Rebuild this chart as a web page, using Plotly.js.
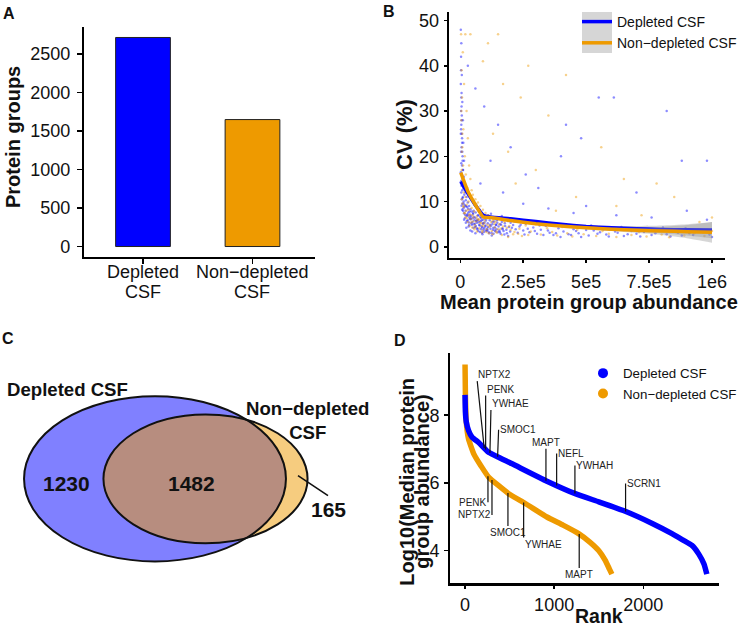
<!DOCTYPE html>
<html>
<head>
<meta charset="utf-8">
<script src="https://cdn.plot.ly/plotly-3.0.1.min.js"></script>
<style>html,body{margin:0;padding:0;background:#fff}</style>
</head>
<body>
<div id="fig" style="width:744px;height:627px"></div>
<script>
// ---------- Panel A: protein groups identified per sample type ----------
const sampleTypes = ['Depleted CSF', 'Non\u2212depleted CSF'];
const proteinGroups = [2712, 1647];

// ---------- Panel B: CV vs mean protein group abundance (abundance in thousands) ----------
const depAbundK = [
  2,4,3,6,2,5,8,3,6,10, 4,2,7,12,5,3,9,15,4,7, 11,2,6,14,9,3,18,5,12,8,
  20,4,16,10,25,6,22,13,30,8, 18,35,27,12,40,21,45,32,15,50, 38,25,55,60,18,42,70,30,65,80,
  48,22,90,58,75,35,100,85,110,52, 95,120,68,130,40,105,140,78,150,115, 160,88,175,125,190,60,135,145,165,180,
  15,28,33,44,53,62,72,83,92,102, 112,118,128,138,148,158,168,178,188,198, 24,36,47,57,66,76,86,97,108,122, 132,143,155,165,185,
  5,7,9,11,13,16,19,23,26,29, 31,34,37,39,43,46,49,51,54,56, 59,61,63,67,69,71,73,77,79,82,
  84,87,89,91,94,96,99,101,104,107, 109,113,117,121,124,127,131,134,137,141, 144,147,152,157,162,167,172,177,183,193,
  3,5,7,9,4,6,8,10,3,5,
  200,205,210,215,220,228,235,240,250,255, 260,268,275,282,290,296,305,315,320,330, 340,348,355,362,370,380,390,398,410,418,
  430,440,450,460,470,480,490,500,510,520, 530,545,555,570,580,590,600,615,625,640, 650,665,680,690,700,715,730,745,760,775,
  790,805,820,835,850,865,880,895,910,925, 950,965,990,1000,
  30,60,95,150,200,120,260,310,420,480, 400,550,610,820,880,980,700,500,350,250, 170,80,620,760,900,450,980
];
const depCV = [
  48,45,42,38,36,34,32,30,29,28, 27,25,24,23,22,21,20,19,18.5,18, 17,16.5,16,15.5,15,14.5,14,13.5,13,12.5,
  12,12,11.5,11,11,10.5,10.3,10,9.8,9.5, 9.2,9,8.8,8.5,8.3,8,7.8,7.6,7.4,7.2, 7,6.8,6.6,6.4,6.3,6.1,6,5.9,5.8,5.6,
  5.5,5.3,5.2,5.1,4.9,4.8,4.7,4.5,4.4,4.2, 4.1,4,3.9,3.8,3.6,3.5,3.4,3.3,3.2,3, 2.9,2.8,2.7,2.5,2.4,3,6.5,5.9,5.5,6.2,
  6,7.2,4.5,5.2,8,4.6,7,6.4,3.8,5.8, 6.9,4.9,5.5,4.3,6.1,5.0,3.9,4.6,5.7,3.4, 4.2,6.5,3.4,9.5,5.3,8.2,3.1,6.2,3.7,7.3, 2.9,4.8,3.6,6.8,3.0,
  9.1,8.2,10.8,7.9,9.6,8.8,7.1,9.0,5.7,6.9, 8.4,5.4,7.8,6.2,6.7,4.9,6.3,7.5,5.0,5.9, 4.4,7.6,5.7,4.1,6.9,3.5,5.5,4.7,6.6,3.9,
  5.8,4.3,6.0,5.1,3.3,5.4,4.5,3.6,6.3,4.0, 5.2,3.3,5.9,4.6,3.1,5.0,4.2,5.6,3.6,4.9, 3.9,5.3,4.5,3.3,4.9,4.1,3.5,5.2,3.8,4.4,
  26,31,23,19,33,25,21,17,39,28,
  5.3,4.2,4.8,5.6,3.9,3.1,4.5,4.9,3.6,2.7, 5.1,4.0,3.2,5.5,4.3,3.5,2.9,4.7,3.8,2.6, 4.6,3.6,3.1,5.2,2.6,3.0,4.1,2.2,3.4,4.8,
  2.8,2.6,3.9,3.5,3.0,2.2,4.4,3.7,2.5,4.7, 3.6,2.9,3.2,3.9,2.7,2.3,4.0,3.4,3.1,4.4, 2.4,2.8,3.5,3.9,2.9,2.3,3.3,3.8,2.6,3.0,
  3.8,4.3,2.8,2.3,3.4,3.1,2.5,4.1,3.0,2.6, 3.6,3.2,2.7,2.2,
  40,35,31,27,22,19,16,13,27,24, 20,33,33,30,19,19,12,9,8.5,9.5, 12,14,7,6.5,8,7.5,6
];
const nonAbundK = [
  3,20,10,5,15,7,25,4,12,30, 8,18,35,6,22,40,10,28,45,14, 50,20,60,33,70,25,80,45,90,55,
  100,38,110,65,120,75,130,50,140,95, 155,85,170,60,185,105,200,125,215,145, 230,165,245,190,
  260,280,300,320,345,365,385,405,425,445, 465,490,515,540,565,590,620,650,680,710,
  740,770,800,830,860,890,930,970,1000,
  12,18,26,32,42,48,58,68,78,88, 98,115,135,150,175,195,210,235,250,270,
  6,9,13,16,21,24,29,34,37,41, 47,52,56,62,66,72,76,83,87,93, 97,103,108,113,118,123,128,137,143,160, 4,8,6,11,
  40,150,110,90,270,170,420,240,350,130, 190,300,220,560,650,780,850,620,460,380, 720,950,1000
];
const nonCV = [
  47,47,43,39,36,33,30,28,26,24, 22,20,18,17,16,15,14,13,12.5,12, 11.5,11,10.5,10,9.8,9.3,9,8.6,8.2,7.8,
  7.5,7.2,7,6.7,6.4,6.1,5.9,5.6,5.5,5.2, 5,4.7,4.5,4.3,4.2,3.9,3.8,3.5,3.3,3.1, 2.9,2.6,2.4,2.2,
  4.7,3.4,5,2.7,4.1,3.3,2.5,4.4,3.0,2.3, 3.8,2.8,4.2,2.4,3.5,2.9,2.2,3.7,2.6,3.2,
  2.3,3.9,2.7,2.1,3.3,2.5,3.0,2.4,3.5,
  9,7.5,6.3,8.2,5.4,7,4.8,6.2,5.2,3.6, 6.6,4.4,5.1,3.9,5.6,4.6,2.8,4.0,5.3,2.6,
  10.5,9.6,8.8,7.4,6.6,8.0,5.5,6.9,4.6,6.1, 4.3,6.5,3.9,5.6,3.4,5.9,4.1,5.3,3.2,4.6, 5.8,3.3,4.9,3.0,4.7,5.5,2.8,4.3,3.4,4.0, 30,25,21,18,
  47,47,45,41,40,36,38,33,29,25, 21,17,14,22,15,14,11,9,11,8, 7,5.5,6.5
];
// loess fits with confidence band
const fitAbundK = [2, 30, 60, 91, 120, 200, 300, 400, 500, 600, 700, 800, 900, 1000];
const depFit   = [14.4, 11.8, 9.2, 7.0, 6.6, 6.2, 5.6, 5.0, 4.5, 4.2, 4.0, 3.85, 3.75, 3.7];
const depFitLo = [13.7, 11.4, 8.9, 6.8, 6.4, 6.0, 5.4, 4.8, 4.2, 3.8, 3.4, 3.0, 2.5, 1.9];
const depFitHi = [15.1, 12.2, 9.5, 7.2, 6.8, 6.4, 5.8, 5.2, 4.8, 4.6, 4.6, 4.7, 5.0, 5.5];
const nonFit   = [16.4, 12.3, 9.3, 6.6, 6.5, 5.8, 5.1, 4.6, 4.2, 3.9, 3.65, 3.5, 3.35, 3.2];
const nonFitLo = [15.6, 11.9, 9.0, 6.4, 6.3, 5.6, 4.9, 4.4, 3.9, 3.5, 3.1, 2.6, 1.9, 0.9];
const nonFitHi = [17.2, 12.7, 9.6, 6.8, 6.7, 6.0, 5.3, 4.8, 4.5, 4.3, 4.2, 4.4, 4.8, 5.5];

// ---------- Panel C: overlap of identified protein groups ----------
const vennSets = ['Depleted CSF', 'Non\u2212depleted<br>CSF'];
const vennCounts = [1230, 1482, 165]; // depleted only, shared, non-depleted only

// ---------- Panel D: abundance rank curves ----------
const depRank = [1, 5, 15, 40, 80, 150, 261, 523, 919, 1237, 1500, 1797, 2100, 2321, 2450, 2545, 2620, 2680, 2712];
const depLogAbund = [8.6, 8.1, 7.8, 7.55, 7.35, 7.2, 6.91, 6.57, 6.05, 5.68, 5.44, 5.16, 4.8, 4.5, 4.3, 4.15, 3.9, 3.6, 3.3];
const nonRank = [1, 5, 15, 40, 100, 180, 265, 490, 676, 919, 1100, 1274, 1400, 1499, 1573, 1620, 1647];
const nonLogAbund = [9.5, 8.6, 7.8, 7.3, 6.85, 6.5, 6.17, 5.68, 5.39, 4.99, 4.75, 4.5, 4.25, 4.0, 3.71, 3.45, 3.3];
const depGenes = ['NPTX2', 'PENK', 'YWHAE', 'SMOC1', 'MAPT', 'NEFL', 'YWHAH', 'SCRN1'];
const depGeneRank = [216, 232, 280, 366, 908, 1028, 1233, 1801];
const nonGenes = ['PENK', 'NPTX2', 'SMOC1', 'YWHAE', 'MAPT'];
const nonGeneRank = [258, 303, 482, 658, 1281];

// ---------- styling ----------
const FONT = 'Liberation Sans, Arial, Helvetica, sans-serif';
const BLUE = '#0000FF', ORANGE = '#EE9A00';
const INK = '#111111';
const W = 744, H = 627;
const fx = p => p / W;          // page pixel -> paper x
const fy = p => 1 - p / H;      // page pixel -> paper y

// label placement: [ax, ay, xanchor, yanchor]
const depLabelPos = [
  [-7, -67, 'left', 'bottom'], [0, -54, 'left', 'bottom'], [1, -43, 'left', 'bottom'], [1, -27, 'left', 'middle'],
  [0, -32, 'center', 'bottom'], [0, -32, 'left', 'middle'], [0, -28, 'left', 'middle'], [0, -28, 'left', 'middle']
];
const nonLabelPos = [
  [0, 26, 'right', 'middle'], [0, 35, 'right', 'middle'], [0, 33, 'center', 'top'],
  [0, 35, 'left', 'top'], [0, 34, 'center', 'top']
];

function interp(xs, ys, x) {
  for (let i = 1; i < xs.length; i++) {
    if (x <= xs[i]) {
      const t = (x - xs[i - 1]) / (xs[i] - xs[i - 1]);
      return ys[i - 1] + t * (ys[i] - ys[i - 1]);
    }
  }
  return ys[ys.length - 1];
}

function axisStyle(extra) {
  return Object.assign({
    showline: true, linecolor: '#000', linewidth: 2.2, mirror: false,
    ticks: 'outside', ticklen: 3.5, tickwidth: 1.5, tickcolor: '#000',
    showgrid: false, zeroline: false, fixedrange: true, ticklabelstandoff: 1, automargin: false,
    tickfont: {family: FONT, size: 18, color: INK}
  }, extra);
}
const titleFont = {family: FONT, size: 20, color: INK, weight: 700};

const toAbund = arr => arr.map(k => k * 1000);
const traces = [];

// A: bars
traces.push({
  type: 'bar', x: sampleTypes, y: proteinGroups, width: 0.5,
  marker: {color: [BLUE, ORANGE], line: {color: '#222', width: 1}},
  xaxis: 'x', yaxis: 'y', showlegend: false, hoverinfo: 'skip'
});

// B: points, then bands and fitted lines
traces.push({
  type: 'scatter', mode: 'markers', x: toAbund(depAbundK), y: depCV,
  marker: {color: BLUE, size: 2.5, opacity: 0.45}, xaxis: 'x2', yaxis: 'y2', showlegend: false, hoverinfo: 'skip'
});
traces.push({
  type: 'scatter', mode: 'markers', x: toAbund(nonAbundK), y: nonCV,
  marker: {color: ORANGE, size: 2.5, opacity: 0.45}, xaxis: 'x2', yaxis: 'y2', showlegend: false, hoverinfo: 'skip'
});
[[depFitLo, depFitHi, depFit, BLUE, 'Depleted CSF'], [nonFitLo, nonFitHi, nonFit, ORANGE, 'Non\u2212depleted CSF']]
  .forEach(([lo, hi, fit, col, name]) => {
    traces.push({type: 'scatter', mode: 'lines', x: toAbund(fitAbundK), y: lo, line: {width: 0, shape: 'spline', smoothing: 0.5},
      xaxis: 'x2', yaxis: 'y2', showlegend: false, hoverinfo: 'skip'});
    traces.push({type: 'scatter', mode: 'lines', x: toAbund(fitAbundK), y: hi, line: {width: 0, shape: 'spline', smoothing: 0.5},
      fill: 'tonexty', fillcolor: 'rgba(153,153,153,0.4)', xaxis: 'x2', yaxis: 'y2', showlegend: false, hoverinfo: 'skip'});
    traces.push({type: 'scatter', mode: 'lines', x: toAbund(fitAbundK), y: fit, name: name,
      line: {color: col, width: 3.5, shape: 'spline', smoothing: 0.5},
      xaxis: 'x2', yaxis: 'y2', legend: 'legend', showlegend: true, hoverinfo: 'skip'});
  });

// D: rank curves
traces.push({type: 'scatter', mode: 'lines', x: nonRank, y: nonLogAbund, line: {color: ORANGE, width: 5.5, shape: 'spline', smoothing: 0.4},
  xaxis: 'x4', yaxis: 'y4', showlegend: false, hoverinfo: 'skip'});
traces.push({type: 'scatter', mode: 'lines', x: depRank, y: depLogAbund, line: {color: BLUE, width: 5.5, shape: 'spline', smoothing: 0.4},
  xaxis: 'x4', yaxis: 'y4', showlegend: false, hoverinfo: 'skip'});
// legend entries for panel D
[['Depleted CSF', BLUE], ['Non\u2212depleted CSF', ORANGE]].forEach(([name, col]) => {
  traces.push({type: 'scatter', mode: 'markers', x: [null], y: [null], name: name, marker: {color: col, size: 10},
    xaxis: 'x4', yaxis: 'y4', legend: 'legend2', showlegend: true, hoverinfo: 'skip'});
});

// ---------- annotations ----------
const annotations = [];
const pageText = (t, x, y, font, extra) => annotations.push(Object.assign({text: t, xref: 'paper', yref: 'paper',
  x: fx(x), y: fy(y), showarrow: false, xanchor: 'center', yanchor: 'middle', font: font}, extra || {}));
const letterFont = {family: FONT, size: 16, color: INK, weight: 700};
pageText('A', 9, 13, letterFont);
pageText('B', 389, 11, letterFont);
pageText('C', 8, 338, letterFont);
pageText('D', 400, 340, letterFont);

// axis titles
pageText('Protein groups', 13, 137, titleFont, {textangle: -90});
pageText('Mean protein group abundance', 589, 302, titleFont);
pageText('CV (%)', 404, 135, Object.assign({}, titleFont, {size: 22}), {textangle: -90});
pageText('Rank', 599, 616, Object.assign({}, titleFont, {size: 19.5}));
pageText('Log10(Median protein', 407, 481.7, titleFont, {textangle: -90});
pageText('group abundance)', 422, 481.7, titleFont, {textangle: -90});

// A: two-line category labels
sampleTypes.forEach(cat => {
  const parts = cat.split(' ');
  [272, 292].forEach((yy, i) => annotations.push({
    text: parts[i], xref: 'x', yref: 'paper', x: cat, y: fy(yy), showarrow: false,
    xanchor: 'center', yanchor: 'middle', font: {family: FONT, size: 18, color: INK}
  }));
});

// C: Venn labels
const vennTxt = (t, x, y, size, extra) => annotations.push(Object.assign({
  text: t, xref: 'x3', yref: 'y3', x: x, y: y, showarrow: false, xanchor: 'center', yanchor: 'middle',
  font: {family: FONT, size: size, color: INK, weight: 700}}, extra || {}));
vennTxt(vennSets[0], 67.5, 389, 18.6);
vennTxt(vennSets[1], 307.5, 420, 18.6);
vennTxt(String(vennCounts[0]), 66.7, 483, 21);
vennTxt(String(vennCounts[1]), 191.7, 483, 21);
vennTxt(String(vennCounts[2]), 298, 475.7, 21, {showarrow: true, arrowhead: 0, arrowwidth: 1.6, arrowcolor: INK,
  ax: 30, ay: 20, xanchor: 'center', yanchor: 'top', standoff: 0});

// D: gene labels with leader segments
const geneLabel = (gene, rank, ranks, vals, pos) => annotations.push({
  text: gene, xref: 'x4', yref: 'y4', x: rank, y: interp(ranks, vals, rank),
  showarrow: true, arrowhead: 0, arrowwidth: 1.2, arrowcolor: INK, standoff: 0, startstandoff: 0,
  ax: pos[0], ay: pos[1], xanchor: pos[2], yanchor: pos[3], borderpad: 0,
  font: {family: FONT, size: 10, color: '#222'}
});
depGenes.forEach((g, i) => geneLabel(g, depGeneRank[i], depRank, depLogAbund, depLabelPos[i]));
nonGenes.forEach((g, i) => geneLabel(g, nonGeneRank[i], nonRank, nonLogAbund, nonLabelPos[i]));

// ---------- shapes: Venn ellipses (area proportional to set size) and legend key backdrop ----------
const VENN_K = 3.99, VENN_ASPECT = 1.585;
const vennCentres = [[155, 478.8], [205.5, 478.8]];
const vennTotals = [vennCounts[0] + vennCounts[1], vennCounts[1] + vennCounts[2]];
const ellipse = (i, fill, line) => {
  const ab = vennTotals[i] * VENN_K;
  const a = Math.sqrt(ab * VENN_ASPECT), b = ab / a;
  const [cx, cy] = vennCentres[i];
  return {type: 'circle', xref: 'x3', yref: 'y3', x0: cx - a, x1: cx + a, y0: cy - b, y1: cy + b,
    fillcolor: fill, line: line, layer: 'above'};
};
const shapes = [
  ellipse(0, '#8080FF', {width: 0}),
  ellipse(1, 'rgba(238,154,0,0.5)', {width: 0}),
  ellipse(0, 'rgba(0,0,0,0)', {color: INK, width: 2}),
  ellipse(1, 'rgba(0,0,0,0)', {color: INK, width: 2}),
  {type: 'rect', xref: 'paper', yref: 'paper', x0: fx(582), x1: fx(612), y0: fy(53), y1: fy(12),
    fillcolor: '#D6D6D6', line: {width: 0}, layer: 'below'}
];

const legendFont = {family: FONT, size: 14, color: INK};
const layout = {
  width: W, height: H, margin: {l: 0, r: 0, t: 0, b: 0, pad: 0, autoexpand: false},
  paper_bgcolor: '#fff', plot_bgcolor: 'rgba(0,0,0,0)',
  font: {family: FONT, color: INK},
  showlegend: true,
  // A
  xaxis: axisStyle({type: 'category', domain: [fx(84), fx(315)], range: [-0.539, 1.571], anchor: 'y',
    showticklabels: false, ticklen: 5}),
  yaxis: axisStyle({domain: [fy(257), fy(27)], range: [-136, 2848], tick0: 0, dtick: 500, anchor: 'x',
    ticklen: 5, ticklabelstandoff: 3}),
  // B
  xaxis2: axisStyle({domain: [fx(449.3), fx(724.7)], range: [-43700, 1050500], anchor: 'y2',
    tickvals: [0, 250000, 500000, 750000, 1000000], ticktext: ['0', '2.5e5', '5e5', '7.5e5', '1e6'],
    ticklabelstandoff: 3}),
  yaxis2: axisStyle({domain: [fy(257.7), fy(12)], range: [-2.4, 51.9], tick0: 0, dtick: 10, anchor: 'x2'}),
  // C
  xaxis3: {domain: [0, 0.5], range: [0, 372], visible: false, fixedrange: true, anchor: 'y3'},
  yaxis3: {domain: [0, fy(300)], range: [627, 300], visible: false, fixedrange: true, anchor: 'x3'},
  // D
  xaxis4: axisStyle({domain: [fx(449.7), fx(718.7)], range: [-171, 2845], tick0: 0, dtick: 1000, anchor: 'y4',
    ticklabelstandoff: 0}),
  yaxis4: axisStyle({domain: [fy(583.3), fy(353.3)], range: [3.03, 9.83], tick0: 4, dtick: 2, anchor: 'x4'}),
  legend: {x: fx(577), y: fy(6), xanchor: 'left', yanchor: 'top', bgcolor: 'rgba(0,0,0,0)', borderwidth: 0,
    font: legendFont, itemwidth: 30, tracegroupgap: 0, traceorder: 'normal'},
  legend2: {x: fx(583), y: fy(358), xanchor: 'left', yanchor: 'top', bgcolor: 'rgba(0,0,0,0)', borderwidth: 0,
    font: Object.assign({}, legendFont, {size: 13.3}), itemwidth: 30, tracegroupgap: 0, traceorder: 'normal'},
  annotations: annotations,
  shapes: shapes
};

Plotly.newPlot('fig', traces, layout, {staticPlot: true, displayModeBar: false});
</script>
</body>
</html>
